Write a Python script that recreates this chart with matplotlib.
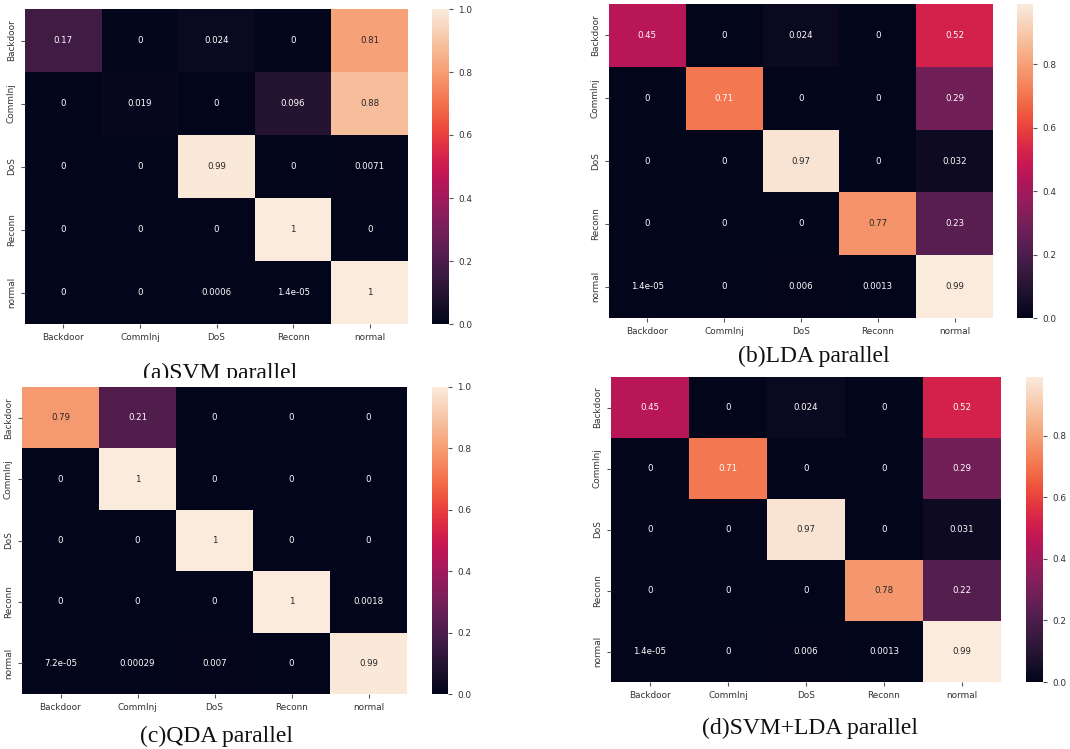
import matplotlib
matplotlib.use("Agg")
import matplotlib.pyplot as plt
import matplotlib.patches as mpatches
import numpy as np
import seaborn as sns

# class labels shared by all four confusion matrices
labels = ["Backdoor", "CommInj", "DoS", "Reconn", "normal"]

svm_cm = [[0.17, 0, 0.024, 0, 0.81],
          [0, 0.019, 0, 0.096, 0.88],
          [0, 0, 0.99, 0, 0.0071],
          [0, 0, 0, 1, 0],
          [0, 0, 0.0006, 1.4e-05, 1]]

lda_cm = [[0.45, 0, 0.024, 0, 0.52],
          [0, 0.71, 0, 0, 0.29],
          [0, 0, 0.97, 0, 0.032],
          [0, 0, 0, 0.77, 0.23],
          [1.4e-05, 0, 0.006, 0.0013, 0.99]]

qda_cm = [[0.79, 0.21, 0, 0, 0],
          [0, 1, 0, 0, 0],
          [0, 0, 1, 0, 0],
          [0, 0, 0, 1, 0.0018],
          [7.2e-05, 0.00029, 0.007, 0, 0.99]]

svm_lda_cm = [[0.45, 0, 0.024, 0, 0.52],
              [0, 0.71, 0, 0, 0.29],
              [0, 0, 0.97, 0, 0.031],
              [0, 0, 0, 0.78, 0.22],
              [1.4e-05, 0, 0.006, 0.0013, 0.99]]

captions = ["(a)SVM parallel", "(b)LDA parallel", "(c)QDA parallel", "(d)SVM+LDA parallel"]

W, H = 1070, 749
fig = plt.figure(figsize=(W / 100, H / 100), dpi=100)


def px_axes(x0, y0, x1, y1):
    return fig.add_axes([x0 / W, 1 - y1 / H, (x1 - x0) / W, (y1 - y0) / H])


def draw_panel(cm, heat_box, cbar_box):
    ax = px_axes(*heat_box)
    cax = px_axes(*cbar_box)
    sns.heatmap(np.array(cm), ax=ax, cbar_ax=cax, annot=True, cmap="rocket",
                annot_kws={"size": 6.2}, xticklabels=labels, yticklabels=labels)
    ax.tick_params(labelsize=6.4, length=3, color="#555555", labelcolor="#333333")
    plt.setp(ax.get_yticklabels(), rotation=90, va="center")
    plt.setp(ax.get_xticklabels(), rotation=0)
    cax.tick_params(labelsize=6.4, length=3, color="#555555", labelcolor="#333333")
    return ax


draw_panel(svm_cm, (25, 9, 408, 324), (432, 9, 449, 324))
draw_panel(lda_cm, (609, 4, 993, 318), (1017, 4, 1033, 318))
draw_panel(qda_cm, (22, 387, 407, 694), (432, 387, 448, 694))
draw_panel(svm_lda_cm, (611, 377, 1001, 682), (1026, 377, 1043, 682))

cap_pos = [(220, 373), (814, 356), (217, 736), (810, 728)]
for text, (cx, cy) in zip(captions, cap_pos):
    fig.text(cx / W, 1 - cy / H, text, ha="center", va="center",
             fontsize=17, family="Liberation Serif", color="#111111")

# the (c) screenshot covers the lower part of the (a) caption
fig.patches.append(mpatches.Rectangle((0, 1 - 386 / H), 420 / W, 8 / H,
                                      transform=fig.transFigure, facecolor="white",
                                      edgecolor="none", zorder=5))

fig.savefig("out.png", dpi=100)
